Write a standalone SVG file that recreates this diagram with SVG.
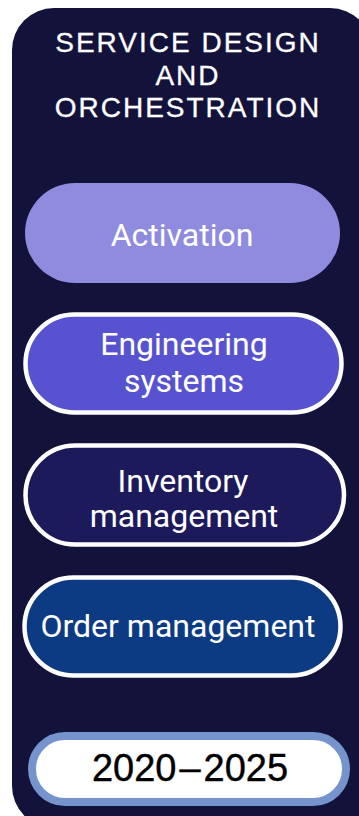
<svg xmlns="http://www.w3.org/2000/svg" width="359" height="816" viewBox="0 0 359 816">
  <style>
    .title { font-family: "Liberation Sans", Arial, sans-serif; font-size: 28px; fill: #ffffff; stroke: #ffffff; stroke-width: 0.3; letter-spacing: 2px; text-anchor: middle; }
    .label { font-family: Roboto, "Liberation Sans", Arial, sans-serif; font-size: 32px; fill: #ffffff; text-anchor: middle; }
    .ring { stroke: #ffffff; stroke-width: 4.5; }
    .years { font-family: "Liberation Sans", Arial, sans-serif; font-size: 38px; fill: #000000; stroke: #000000; stroke-width: 0.4; text-anchor: middle; }
  </style>

  <!-- panel -->
  <rect id="panel" x="12" y="8" width="360" height="820" rx="42" fill="#13123a"/>

  <g id="title">
    <text class="title" x="188" y="52">SERVICE DESIGN</text>
    <text class="title" x="188" y="85">AND</text>
    <text class="title" x="188" y="117">ORCHESTRATION</text>
  </g>

  <g id="activation">
    <rect x="25" y="183" width="315" height="100" rx="50" fill="#8f8bdf"/>
    <text class="label" x="182" y="246">Activation</text>
  </g>

  <g id="engineering-systems">
    <rect class="ring" x="25.5" y="314.5" width="316" height="98" rx="49" fill="#5753d0"/>
    <text class="label" x="184" y="355">Engineering</text>
    <text class="label" x="184" y="392">systems</text>
  </g>

  <g id="inventory-management">
    <rect class="ring" x="25.5" y="445.5" width="318.5" height="99" rx="49.5" fill="#1d1a5c"/>
    <text class="label" x="183" y="492">Inventory</text>
    <text class="label" x="184" y="527">management</text>
  </g>

  <g id="order-management">
    <rect class="ring" x="24.5" y="577.5" width="316" height="98" rx="49" fill="#0c3b83"/>
    <text class="label" x="178" y="637">Order management</text>
  </g>

  <g id="period">
    <rect x="32" y="736" width="314" height="66" rx="33" fill="#ffffff" stroke="#7593cd" stroke-width="8"/>
    <text class="years" x="190" y="781">2020<tspan dx="3">–</tspan><tspan dx="3">2025</tspan></text>
  </g>

  <g id="connectors"/>
</svg>
